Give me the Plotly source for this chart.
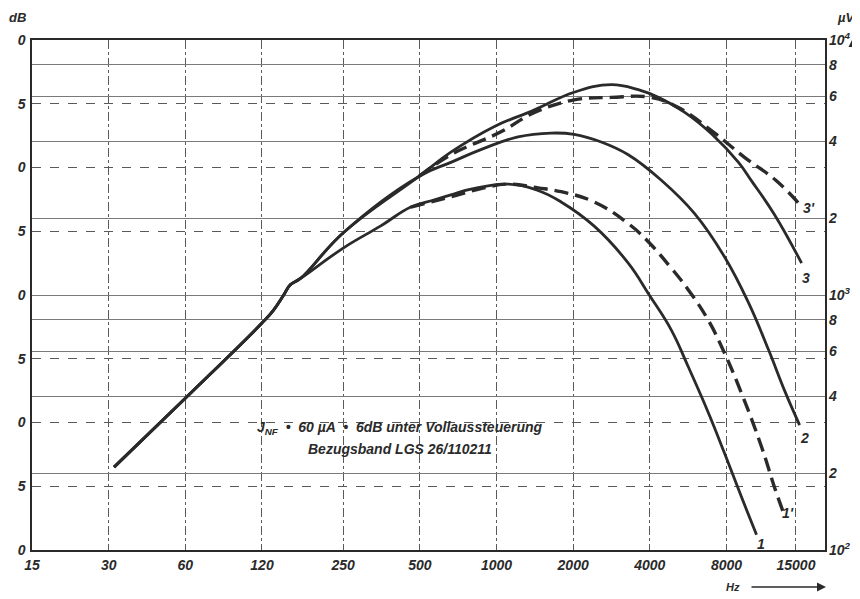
import math
import plotly.graph_objects as go

# ---------------- data (frequency in Hz, level in dB) ----------------
x_tick_vals = [15, 30, 60, 120, 250, 500, 1000, 2000, 4000, 8000, 15000]
x_tick_text = ["15", "30", "60", "120", "250", "500", "1000", "2000", "4000", "8000", "15000"]

db_tick_vals = [0, 5, 10, 15, 20, 25, 30, 35, 40]
db_tick_text = ["0", "5", "0", "5", "0", "5", "0", "5", "0"]

uv_tick_vals = [100, 200, 400, 600, 800, 1000, 2000, 4000, 6000, 8000, 10000]
uv_tick_text = ["10<sup>2</sup>", "2", "4", "6", "8", "10<sup>3</sup>", "2", "4", "6", "8", "10<sup>4</sup>"]

trunk_f = [31.5, 60, 120, 133, 146, 155, 170]
trunk_db = [6.5, 11.9, 17.8, 18.8, 20.0, 20.8, 21.3]

c1_f = [251, 350, 461, 567, 662, 794, 1100, 1456, 1794, 2420, 3292, 3981, 4860, 5669, 6798, 7857, 9165, 10499]
c1_db = [23.7, 25.4, 26.9, 27.45, 27.85, 28.3, 28.7, 28.2, 27.3, 25.4, 22.5, 20.0, 17.25, 14.35, 10.75, 7.6, 4.15, 1.2]

c1d_f = [461, 662, 893, 1100, 1456, 1794, 2420, 3292, 3981, 4860, 5669, 6798, 7857, 9165, 10983, 12357, 13410]
c1d_db = [26.9, 27.7, 28.4, 28.7, 28.4, 28.1, 27.3, 25.6, 24.1, 22.1, 20.4, 18.0, 15.45, 12.3, 8.1, 4.9, 2.9]

c2_f = [251, 496, 662, 893, 1215, 1638, 2018, 2578, 3292, 4440, 5988, 7857, 9762, 11704, 13532, 15500]
c2_db = [24.9, 29.3, 30.4, 31.5, 32.4, 32.7, 32.6, 32.0, 31.0, 29.0, 26.4, 23.0, 19.4, 15.7, 12.5, 9.8]

c3_f = [251, 496, 662, 978, 1404, 2018, 2822, 3603, 4320, 5468, 6984, 8919, 10035, 12357, 15780]
c3_db = [24.9, 29.3, 31.2, 33.2, 34.5, 35.9, 36.5, 36.1, 35.5, 34.35, 32.65, 30.4, 28.95, 26.3, 22.5]

c3d_f = [496, 662, 1041, 1404, 2018, 2822, 4054, 5178, 6984, 9417, 12500, 15360]
c3d_db = [29.3, 31.0, 32.8, 34.3, 35.3, 35.5, 35.5, 34.7, 32.9, 30.8, 29.0, 27.2]

# ---------------- styling ----------------
INK = "#2a2a2a"
GRID = "#5a5a5a"
FONT = "Liberation Sans, Arial, sans-serif"

# plot-area edges in screen pixels (page body has an 8px margin)
L, R, T, B = 32, 825, 40, 550
OFF = 8
W, H = 860 - OFF, 599 - OFF


def px(xp, yp):
    return (xp - L) / (R - L), (B - yp) / (B - T)


fig = go.Figure()


def add_curve(f, db, dashed=False):
    fig.add_trace(go.Scatter(
        x=f, y=db, mode="lines",
        line=dict(color=INK, width=3.4 if dashed else 2.8,
                  dash="14px,7px" if dashed else "solid",
                  shape="spline", smoothing=1.2),
        hoverinfo="skip", showlegend=False))


add_curve(trunk_f + c1_f, trunk_db + c1_db)
add_curve(trunk_f + c2_f, trunk_db + c2_db)
add_curve(trunk_f + c3_f, trunk_db + c3_db)
add_curve(c1d_f, c1d_db, dashed=True)
add_curve(c3d_f, c3d_db, dashed=True)

# invisible trace so the right-hand µV axis is drawn
fig.add_trace(go.Scatter(x=[15], y=[100], yaxis="y2", mode="markers",
                         marker=dict(opacity=0), hoverinfo="skip", showlegend=False))

tickfont = dict(family=FONT, size=14, color=INK, style="italic", weight="bold")

fig.update_layout(
    template="none",
    width=W, height=H, autosize=False,
    margin=dict(l=L - OFF, r=W - (R - OFF), t=T - OFF, b=H - (B - OFF), pad=0, autoexpand=False),
    paper_bgcolor="white", plot_bgcolor="white",
    showlegend=False,
    xaxis=dict(type="log", range=[math.log10(15), math.log10(19500)],
               tickvals=x_tick_vals, ticktext=x_tick_text, tickfont=tickfont,
               showgrid=True, gridcolor=GRID, gridwidth=1, griddash="dashdot",
               showline=True, linecolor=INK, linewidth=1.5, mirror=True,
               ticks="", zeroline=False, ticklabelstandoff=1, automargin=False),
    yaxis=dict(range=[0, 40], tickvals=db_tick_vals, ticktext=db_tick_text,
               tickfont=tickfont, showgrid=True, gridcolor=GRID, gridwidth=1,
               griddash="dash", showline=True, linecolor=INK, linewidth=1.5,
               mirror=True, ticks="", zeroline=False, ticklabelstandoff=2,
               automargin=False),
    yaxis2=dict(overlaying="y", side="right", type="log", range=[2, 4],
                tickvals=uv_tick_vals, ticktext=uv_tick_text, tickfont=tickfont,
                showgrid=True, gridcolor="#7a7a7a", gridwidth=1, griddash="solid",
                showline=False, ticks="", zeroline=False, ticklabelstandoff=3,
                automargin=False),
)

ann = []


def label(text, xp, yp, size=14, xanchor="center"):
    x, y = px(xp, yp)
    ann.append(dict(text=text, x=x, y=y, xref="paper", yref="paper",
                    showarrow=False, xanchor=xanchor, yanchor="middle",
                    font=dict(family=FONT, size=size, color=INK, style="italic", weight="bold")))


label("1", 761, 544)
label("1'", 788, 513)
label("2", 804, 438)
label("3", 806, 278)
label("3'", 809, 208)
label("dB", 17, 18, size=13)
label("µV", 846, 18, size=13)
label("Hz", 733, 587, size=11)
label("J<sub>NF</sub>  •  60 µA  •  6dB unter Vollaussteuerung", 400, 428, size=14)
label("Bezugsband LGS 26/110211", 400, 449, size=14)


def arrow(head_xp, head_yp, tail_dx, tail_dy):
    x, y = px(head_xp, head_yp)
    ann.append(dict(x=x, y=y, ax=tail_dx, ay=tail_dy, xref="paper", yref="paper",
                    axref="pixel", ayref="pixel", text="", showarrow=True,
                    arrowhead=2, arrowsize=1.2, arrowwidth=1.5, arrowcolor=INK))


arrow(853, 38, 0, 20)     # µV arrow (up)
arrow(826, 587, -76, 0)   # Hz arrow (right)
fig.update_layout(annotations=ann)

# faint dashed guide under the µV arrow
xa, ya0 = px(853, 60)
_, ya1 = px(853, 98)
fig.add_shape(type="line", xref="paper", yref="paper", x0=xa, x1=xa, y0=ya0, y1=ya1,
              line=dict(color="#888", width=1, dash="4px,4px"))

fig.write_html("out.html")
